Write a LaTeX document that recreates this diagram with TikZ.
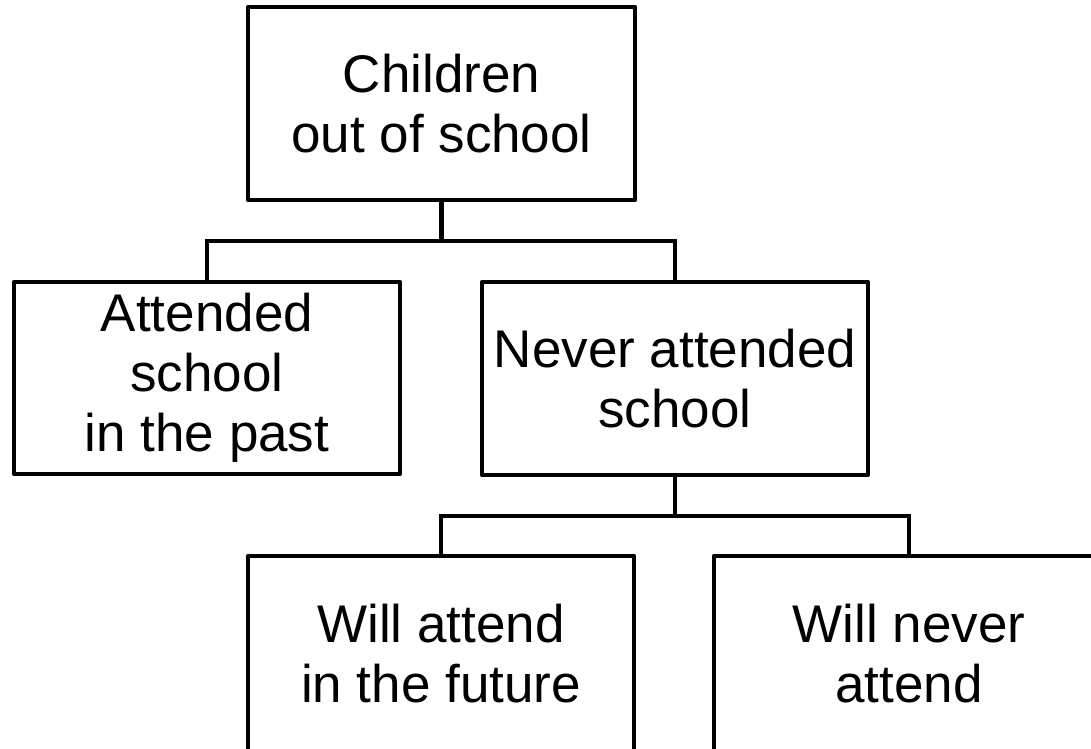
\documentclass[tikz,border=0pt]{standalone}
\usepackage{fontspec}
\setmainfont{Liberation Sans}
\begin{document}
\begin{tikzpicture}[x=1pt,y=-1pt,
  box/.style={draw=black, line width=4.5pt, line join=round, rectangle, inner sep=0pt,
    align=center, font=\fontsize{53}{60}\selectfont},
  conn/.style={draw=black, line width=4.5pt}]
\useasboundingbox (0,0) rectangle (1091,748);
\fill[white] (0,0) rectangle (1091,748);
\node[box, minimum width=387pt, minimum height=193pt] (top) at (441.5,103.5) {Children\\out of school};
\node[box, minimum width=386pt, minimum height=192pt] (att) at (207,378) {Attended\\school\\in the past};
\node[box, minimum width=386pt, minimum height=193pt] (nev) at (675,378.5) {Never attended\\school};
\node[box, minimum width=386pt, minimum height=196pt] (wa) at (441,654) {Will attend\\in the future};
\node[box, minimum width=390pt, minimum height=196pt] (wn) at (909,654) {Will never\\attend};
\coordinate (j1) at (441.5,241);
\coordinate (j2) at (675,516);
\draw[conn] (top.south) -- (j1);
\draw[conn] (att.north) |- (j1) -| (nev.north);
\draw[conn] (nev.south) -- (j2);
\draw[conn] (wa.north) |- (j2) -| (wn.north);
\end{tikzpicture}
\end{document}
